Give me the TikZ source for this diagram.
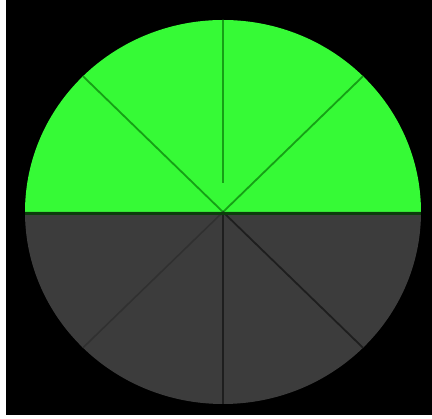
\documentclass[tikz,border=0pt]{standalone}
\usepackage{xcolor}
\usetikzlibrary{calc}
\definecolor{dTop}{RGB}{54,250,54}
\definecolor{dBottom}{RGB}{60,60,60}
\definecolor{dLineTop}{RGB}{22,160,22}
\definecolor{dLineBot}{RGB}{30,30,30}
\definecolor{dFaint}{RGB}{48,48,48}
\definecolor{dRim}{RGB}{12,60,12}
\tikzset{
  half/.style={draw=none},
  spoke/.style={line width=1.8pt, draw=dLineTop},
  spokebot/.style={line width=1.8pt, draw=dLineBot},
  spokefaint/.style={line width=1.6pt, draw=dFaint},
  divider/.style={line width=3.5pt, draw=dRim},
}
\begin{document}
\begin{tikzpicture}[x=1pt, y=1pt]
  \useasboundingbox (0,0) rectangle (432,419);
  \fill[white] (0,0) rectangle (432,419);
  \fill[black] (6,4) rectangle (432,419);
  % centre and rim points
  \coordinate (c) at (223,207);
  \coordinate (w) at ($(c)+(-198,0)$);
  \coordinate (e) at ($(c)+(198,0)$);
  \coordinate (n) at ($(c)+(0,192)$);
  \coordinate (nend) at ($(c)+(0,29)$);
  \coordinate (s) at ($(c)+(0,-192)$);
  \coordinate (nw) at ($(c)+(135:198pt and 192pt)$);
  \coordinate (ne) at ($(c)+(45:198pt and 192pt)$);
  \coordinate (sw) at ($(c)+(225:198pt and 192pt)$);
  \coordinate (se) at ($(c)+(315:198pt and 192pt)$);
  % halves
  \fill[half, dTop] (w) arc[start angle=180, end angle=0, x radius=198pt, y radius=192pt] -- cycle;
  \fill[half, dBottom] (w) arc[start angle=180, end angle=360, x radius=198pt, y radius=192pt] -- cycle;
  % spokes
  \draw[spoke] (n) -- (nend);
  \draw[spoke] (nw) -- (c);
  \draw[spoke] (ne) -- (c);
  \draw[spokebot] (c) -- (s);
  \draw[spokebot] (c) -- (se);
  \draw[spokefaint] (c) -- (sw);
  \draw[divider] ($(w)+(0,-1.5)$) -- ($(e)+(0,-1.5)$);
\end{tikzpicture}
\end{document}
